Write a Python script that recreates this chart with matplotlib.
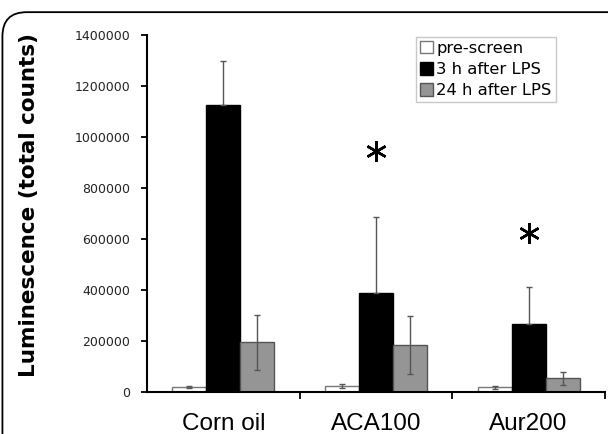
import matplotlib
matplotlib.use("Agg")
import matplotlib.pyplot as plt
import numpy as np
from matplotlib.patches import FancyBboxPatch

categories = ["Corn oil", "ACA100", "Aur200"]
series_names = ["pre-screen", "3 h after LPS", "24 h after LPS"]
pre_screen = [20000, 25000, 18000]
pre_screen_err = [3000, 8000, 7000]
after_3h = [1125000, 390000, 266000]
after_3h_err = [173000, 295000, 144000]
after_24h = [195000, 184000, 53000]
after_24h_err = [107000, 114000, 25000]
sig_y = [None, 945000, 625000]
yticks = [0, 200000, 400000, 600000, 800000, 1000000, 1200000, 1400000]

fig = plt.figure(figsize=(6.08, 4.34), dpi=100)
ax = fig.add_axes([0.2418, 0.0968, 0.7532, 0.8226])

# rounded border around the figure
border = FancyBboxPatch((0.004, -0.2), 1.2, 1.172, boxstyle="round,pad=0,rounding_size=0.04",
                        transform=fig.transFigure, fill=False, edgecolor="black",
                        linewidth=1.3, mutation_aspect=608/434)
fig.patches.append(border)

x = np.arange(len(categories))
w = 0.223
styles = [
    dict(facecolor="white", edgecolor="#777777"),
    dict(facecolor="black", edgecolor="black"),
    dict(facecolor="#959595", edgecolor="#555555"),
]
vals = [pre_screen, after_3h, after_24h]
errs = [pre_screen_err, after_3h_err, after_24h_err]
for i, (v, e, st, name) in enumerate(zip(vals, errs, styles, series_names)):
    xi = x + (i - 1) * w
    ax.bar(xi, v, width=w, label=name, linewidth=1.0, zorder=2, **st)
    if i == 1:
        yerr = [np.zeros(len(e)), e]
    else:
        yerr = e
    ax.errorbar(xi, v, yerr=yerr, fmt="none", ecolor="#555555", elinewidth=1.0,
                capsize=2.5, capthick=1.0, zorder=3)

for xi, s in zip(x, sig_y):
    if s is not None:
        ax.plot([xi], [s], marker=(6, 2, 0), markersize=15, color="black",
                markeredgewidth=1.8, linestyle="none", zorder=4)

ax.set_xlim(-0.5, 2.5)
ax.set_ylim(0, 1400000)
ax.set_yticks(yticks)
ax.set_yticklabels([str(t) for t in yticks], fontsize=9, family="DejaVu Sans", color="#222222")
ax.set_xticks([0.5, 1.5, 2.5])
ax.set_xticklabels([])
ax.set_xticks(x, minor=True)
ax.set_xticklabels(categories, minor=True, fontsize=17.5, family="Liberation Sans")
ax.tick_params(axis="x", which="major", direction="out", length=5, width=1.3)
ax.tick_params(axis="x", which="minor", length=0, pad=15)
ax.tick_params(axis="y", direction="out", length=4, width=1.3, pad=8)
for sp in ["top", "right"]:
    ax.spines[sp].set_visible(False)
for sp in ["left", "bottom"]:
    ax.spines[sp].set_linewidth(1.5)

ax.set_ylabel("Luminescence (total counts)", fontsize=15.5, fontweight="bold",
              family="DejaVu Sans")
ax.yaxis.set_label_coords(-0.236, 0.525)

leg = ax.legend(loc="upper right", bbox_to_anchor=(0.892, 0.995), fontsize=11.8,
                frameon=True, fancybox=False, handlelength=0.8, handleheight=0.8,
                handletextpad=0.2, borderpad=0.25, labelspacing=0.38, borderaxespad=0)
leg.get_frame().set_edgecolor("#bbbbbb")
leg.get_frame().set_linewidth(1.0)

fig.savefig("out.png", dpi=100)
